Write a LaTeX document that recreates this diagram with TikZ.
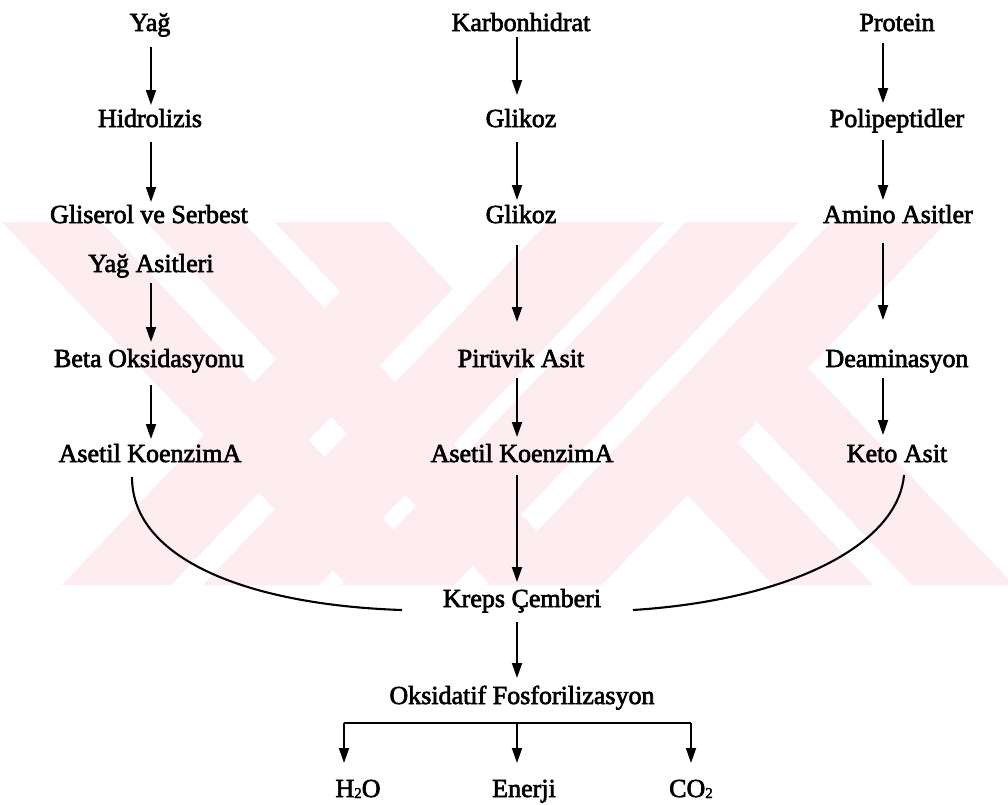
\documentclass[tikz,border=0pt]{standalone}
\usepackage{fontspec}
\newfontfamily\lbl{Liberation Serif}[FakeBold=2.5]
\usetikzlibrary{arrows.meta,calc}
\definecolor{wm}{RGB}{253,236,240}
\begin{document}
\begin{tikzpicture}[x=1pt,y=-1pt,
  lab/.style={anchor=base, inner sep=0pt, font=\lbl\fontsize{26}{30}\selectfont},
  arr/.style={line width=1.8pt, -{Triangle[length=15pt,width=10pt]}},
  link/.style={line width=2.1pt},
  wmstripe/.style={fill=wm, draw=none}]
\useasboundingbox (0,0) rectangle (1008,804);
\fill[white] (0,0) rectangle (1008,804);
% watermark
\begin{scope}
\clip (0,222) rectangle (1008,585);
\fill[wmstripe] (2,222) -- (101,222) -- (446,585) -- (347,585) -- cycle;
\fill[wmstripe] (146,222) -- (243,222) -- (588,585) -- (491,585) -- cycle;
\fill[wmstripe] (274.5,222) -- (389.5,222) -- (452.8,288.6) -- (395,349) -- cycle;
\fill[wmstripe] (398,231) -- (452.8,288.6) -- (171,585) -- (62,585) -- cycle;
\fill[wmstripe] (548,222) -- (664,222) -- (319,585) -- (203,585) -- cycle;
\fill[wmstripe] (686,222) -- (799,222) -- (454,585) -- (341,585) -- cycle;
\fill[wmstripe] (831,222) -- (947,222) -- (602,585) -- (486,585) -- cycle;
\fill[wmstripe] (679.5,381.3) -- (873,585) -- (773,585) -- (629.5,434) -- cycle;
\fill[wmstripe] (750,307.1) -- (1014,585) -- (912,585) -- (699,360.7) -- cycle;
\end{scope}
% column axes
\coordinate (cL) at (151,0);
\coordinate (cM) at (517,0);
\coordinate (cR) at (883,0);
% left column
\node[lab] (yag)   at (150,31)  {Yağ};
\node[lab] (hidro) at (150,127) {Hidrolizis};
\node[lab] (glis)  at (149,223) {Gliserol ve Serbest};
\node[lab] (yagas) at (151,272) {Yağ Asitleri};
\node[lab] (beta)  at (149,367) {Beta Oksidasyonu};
\node[lab] (asetL) at (150,462) {Asetil KoenzimA};
% middle column
\node[lab] (karb)  at (521,31)  {Karbonhidrat};
\node[lab] (glk1)  at (521,127) {Glikoz};
\node[lab] (glk2)  at (521,223) {Glikoz};
\node[lab] (piru)  at (521,367) {Pirüvik Asit};
\node[lab] (asetM) at (522,462) {Asetil KoenzimA};
\node[lab] (kreps) at (522,607) {Kreps Çemberi};
\node[lab] (oks)   at (522,704) {Oksidatif Fosforilizasyon};
% right column
\node[lab] (prot)  at (897,31)  {Protein};
\node[lab] (poli)  at (897,127) {Polipeptidler};
\node[lab] (amino) at (898,223) {Amino Asitler};
\node[lab] (deam)  at (897,367) {Deaminasyon};
\node[lab] (keto)  at (897,462) {Keto Asit};
% products
\node[lab] (h2o)    at (358,797) {H{\fontsize{15}{15}\selectfont\raisebox{-1pt}{2}}O};
\node[lab] (enerji) at (524,797) {Enerji};
\node[lab] (co2)    at (691,797) {CO{\fontsize{15}{15}\selectfont\raisebox{-1pt}{2}}};
% left arrows
\draw[arr, shorten <=16pt, shorten >=22pt] (cL |- yag.base) -- (cL |- hidro.base);
\draw[arr, shorten <=15pt, shorten >=21pt] (cL |- hidro.base) -- (cL |- glis.base);
\draw[arr, shorten <=11pt, shorten >=25pt] (cL |- yagas.base) -- (cL |- beta.base);
\draw[arr, shorten <=18pt, shorten >=23pt] (cL |- beta.base) -- (cL |- asetL.base);
% middle arrows
\draw[arr, shorten <=6pt,  shorten >=32pt] (cM |- karb.base) -- (cM |- glk1.base);
\draw[arr, shorten <=15pt, shorten >=23pt] (cM |- glk1.base) -- (cM |- glk2.base);
\draw[arr, shorten <=22pt, shorten >=45pt] (cM |- glk2.base) -- (cM |- piru.base);
\draw[arr, shorten <=11pt, shorten >=25pt] (cM |- piru.base) -- (cM |- asetM.base);
\draw[arr, shorten <=13pt, shorten >=25pt] (cM |- asetM.base) -- (cM |- kreps.base);
\draw[arr, shorten <=15pt, shorten >=26pt] (cM |- kreps.base) -- (cM |- oks.base);
% right arrows
\draw[arr, shorten <=12pt, shorten >=24pt] (cR |- prot.base) -- (cR |- poli.base);
\draw[arr, shorten <=13pt, shorten >=23pt] (cR |- poli.base) -- (cR |- amino.base);
\draw[arr, shorten <=20pt, shorten >=47pt] (cR |- amino.base) -- (cR |- deam.base);
\draw[arr, shorten <=11pt, shorten >=27pt] (cR |- deam.base) -- (cR |- keto.base);
% curves into Krebs
\coordinate (curLs) at (132,477);
\coordinate (curLe) at (402,610);
\coordinate (curRs) at (904,475);
\coordinate (curRe) at (633,610);
\draw[link] (curLs) .. controls (132,560) and (250,605) .. (curLe);
\draw[link] (curRs) .. controls (898,545) and (790,600) .. (curRe);
% branch
\coordinate (bL) at (344,723);
\coordinate (bM) at (517,723);
\coordinate (bR) at (691,723);
\draw[line width=2.6pt] (bL) -- (bR);
\draw[arr, shorten >=34pt] (bL) -- (bL |- h2o.base);
\draw[arr, shorten >=34pt] (bM) -- (bM |- enerji.base);
\draw[arr, shorten >=34pt] (bR) -- (bR |- co2.base);
\end{tikzpicture}
\end{document}
